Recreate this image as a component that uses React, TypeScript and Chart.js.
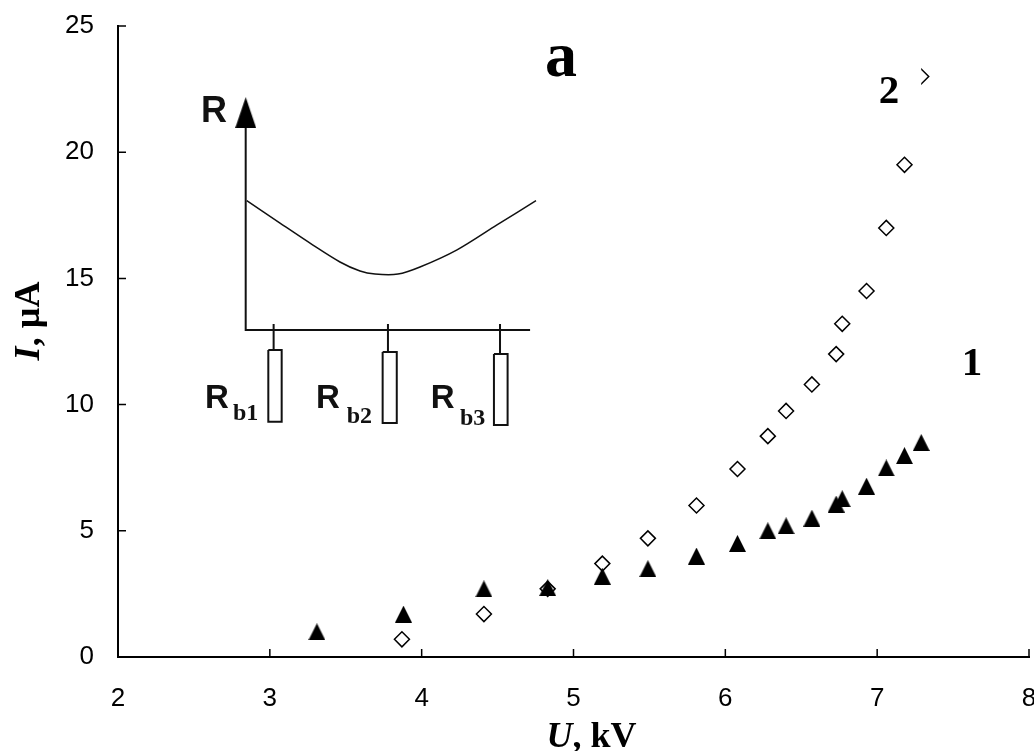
import React, { useEffect, useRef } from "react";
import { Chart, registerables } from "chart.js";

Chart.register(...registerables);

const voltage1 = [3.31, 3.88, 4.41, 4.83, 5.19, 5.49, 5.81, 6.08, 6.28, 6.4, 6.57, 6.73, 6.77, 6.93, 7.06, 7.18, 7.29];
const current1 = [1.0, 1.7, 2.7, 2.75, 3.2, 3.5, 4.0, 4.5, 5.0, 5.2, 5.5, 6.06, 6.27, 6.77, 7.49, 7.98, 8.5];
const voltage2 = [3.87, 4.41, 4.83, 5.19, 5.49, 5.81, 6.08, 6.28, 6.4, 6.57, 6.73, 6.77, 6.93, 7.06, 7.18, 7.29];
const current2 = [0.7, 1.7, 2.7, 3.7, 4.7, 6.0, 7.45, 8.75, 9.75, 10.8, 12.0, 13.2, 14.5, 17.0, 19.5, 23.0];

const insetCurveX = [2.848, 3.067, 3.284, 3.462, 3.594, 3.693, 3.844, 3.989, 4.233, 4.496, 4.753];
const insetCurveY = [18.08, 17.19, 16.32, 15.65, 15.29, 15.17, 15.17, 15.45, 16.13, 17.12, 18.08];
const insetAxisX = [2.841, 2.841, 4.714];
const insetAxisY = [20.96, 12.96, 12.96];
const insetArrowX = [2.841];
const insetArrowY = [21.57];
const insetStemX = [3.025, 3.778, 4.516];
const insetStemTop = [13.19, 13.19, 13.19];
const insetBoxTop = [12.16, 12.08, 12.0];
const insetBoxBottom = [9.32, 9.27, 9.19];
const insetBoxLeft = [2.99, 3.743, 4.476];
const insetBoxRight = [3.078, 3.836, 4.566];

const xTicks = [2, 3, 4, 5, 6, 7, 8];
const yTicks = [0, 5, 10, 15, 20, 25];

const SERIF = '"Liberation Serif"';
const SANS = '"Liberation Sans"';
const PLOT_RIGHT = 1029;

function triangleImage(w: number, h: number) {
  const c = document.createElement("canvas");
  c.width = w;
  c.height = h;
  const g = c.getContext("2d")!;
  g.fillStyle = "#000";
  g.beginPath();
  g.moveTo(w / 2, 0);
  g.lineTo(w, h);
  g.lineTo(0, h);
  g.closePath();
  g.fill();
  return c;
}

function zip(xs: number[], ys: number[]) {
  return xs.map((x, i) => ({ x, y: ys[i] }));
}

const line = (data: { x: number; y: number }[], borderWidth = 2, tension = 0) => ({
  data,
  showLine: true,
  borderColor: "#111",
  borderWidth,
  pointRadius: 0,
  fill: false,
  tension,
});

const decorations = {
  id: "decorations",
  afterLayout(chart: any) {
    const x = chart.scales.x;
    x.right = PLOT_RIGHT;
    x.width = PLOT_RIGHT - x.left;
    x.configure();
    chart.chartArea.right = PLOT_RIGHT;
    chart.chartArea.width = PLOT_RIGHT - chart.chartArea.left;
  },
  afterDatasetsDraw(chart: any) {
    const { ctx, scales, chartArea } = chart;
    const X = scales.x;
    const Y = scales.y;
    const px = (v: number) => X.getPixelForValue(v);
    const py = (v: number) => Y.getPixelForValue(v);

    ctx.save();
    // inward tick marks
    ctx.strokeStyle = "#000";
    ctx.lineWidth = 1.5;
    ctx.beginPath();
    xTicks.forEach((t) => {
      ctx.moveTo(px(t), chartArea.bottom);
      ctx.lineTo(px(t), chartArea.bottom - 8);
    });
    yTicks.forEach((t) => {
      ctx.moveTo(chartArea.left, py(t));
      ctx.lineTo(chartArea.left + 8, py(t));
    });
    ctx.stroke();

    // white box of label "2" hides the left half of the last marker
    ctx.fillStyle = "#fff";
    ctx.fillRect(px(7.29) - 52, py(23.0) - 12, 52, 44);

    ctx.fillStyle = "#000";
    ctx.textBaseline = "alphabetic";
    ctx.textAlign = "center";
    ctx.font = `bold 64px ${SERIF}`;
    ctx.fillText("a", px(4.918), py(23.02));
    ctx.font = `bold 41px ${SERIF}`;
    ctx.fillText("2", px(7.078), py(21.95));
    ctx.fillText("1", px(7.625), py(11.18));

    // inset labels
    ctx.textAlign = "left";
    ctx.fillStyle = "#111";
    ctx.font = `bold 36px ${SANS}`;
    ctx.fillText("R", px(2.547), py(21.2));
    const rb = ["b1", "b2", "b3"];
    const rbX = [2.573, 3.304, 4.06];
    const rbSubX = [2.757, 3.506, 4.252];
    const rbY = [9.865, 9.865, 9.865];
    const rbSubY = [9.39, 9.27, 9.19];
    rb.forEach((s, i) => {
      ctx.font = `bold 33px ${SANS}`;
      ctx.fillText("R", px(rbX[i]), py(rbY[i]));
      ctx.font = `bold 24px ${SERIF}`;
      ctx.fillText(s, px(rbSubX[i]), py(rbSubY[i]));
    });

    // axis titles with mixed italic and bold parts
    ctx.fillStyle = "#000";
    const drawMixed = (x: number, y: number, rotate: boolean, italic: string, rest: string) => {
      ctx.save();
      ctx.translate(x, y);
      if (rotate) ctx.rotate(-Math.PI / 2);
      const fi = `italic bold 36px ${SERIF}`;
      const fb = `bold 36px ${SERIF}`;
      ctx.font = fi;
      const wi = ctx.measureText(italic).width;
      ctx.font = fb;
      const wr = ctx.measureText(rest).width;
      const start = -(wi + wr) / 2;
      ctx.font = fi;
      ctx.fillText(italic, start, 0);
      ctx.font = fb;
      ctx.fillText(rest, start + wi, 0);
      ctx.restore();
    };
    drawMixed(591.5, 747, false, "U", ", kV");
    drawMixed(39, 321, true, "I", ", \u00b5A");
    ctx.restore();
  },
};

export default function App() {
  const ref = useRef<HTMLCanvasElement>(null);
  useEffect(() => {
    const triangle = triangleImage(17, 17);
    const arrow = triangleImage(21, 31);
    const boxes = insetStemX.map((_, i) =>
      line([
        { x: insetBoxLeft[i], y: insetBoxTop[i] },
        { x: insetBoxRight[i], y: insetBoxTop[i] },
        { x: insetBoxRight[i], y: insetBoxBottom[i] },
        { x: insetBoxLeft[i], y: insetBoxBottom[i] },
        { x: insetBoxLeft[i], y: insetBoxTop[i] },
      ]),
    );
    const stems = insetStemX.map((x, i) =>
      line([
        { x, y: insetStemTop[i] },
        { x, y: insetBoxTop[i] },
      ]),
    );
    const chart = new Chart(ref.current!, {
      type: "scatter",
      data: {
        datasets: [
          {
            label: "1",
            data: zip(voltage1, current1),
            pointStyle: triangle,
            pointRadius: 8,
          },
          {
            label: "2",
            data: zip(voltage2, current2),
            pointStyle: "rectRot",
            pointRadius: 7.5,
            backgroundColor: "#fff",
            borderColor: "#000",
            borderWidth: 1.5,
          },
          line(zip(insetCurveX, insetCurveY), 1.5, 0.3),
          line(zip(insetAxisX, insetAxisY)),
          ...stems,
          ...boxes,
          {
            data: zip(insetArrowX, insetArrowY),
            pointStyle: arrow,
            pointRadius: 10,
          },
        ] as any,
      },
      options: {
        animation: false,
        responsive: false,
        layout: { padding: { top: 26, right: 5, left: 0, bottom: 0 } },
        plugins: { legend: { display: false }, title: { display: false }, tooltip: { enabled: false } },
        scales: {
          x: {
            type: "linear",
            min: 2,
            max: 8,
            afterFit: (s: any) => {
              s.height = 94;
              s.paddingLeft = 0;
              s.paddingRight = 0;
            },
            afterBuildTicks: (s: any) => {
              s.ticks = xTicks.map((value) => ({ value }));
            },
            border: { color: "#000", width: 2 },
            grid: { drawOnChartArea: false, drawTicks: false },
            ticks: { color: "#000", padding: 26, maxRotation: 0, font: { family: "Liberation Sans", size: 26 } },
          },
          y: {
            type: "linear",
            min: 0,
            max: 25,
            afterFit: (s: any) => {
              s.width = 118;
              s.paddingTop = 0;
              s.paddingBottom = 0;
            },
            afterBuildTicks: (s: any) => {
              s.ticks = yTicks.map((value) => ({ value }));
            },
            border: { color: "#000", width: 2 },
            grid: { drawOnChartArea: false, drawTicks: false },
            ticks: { color: "#000", padding: 24, font: { family: "Liberation Sans", size: 26 } },
          },
        },
      } as any,
      plugins: [decorations],
    });
    return () => chart.destroy();
  }, []);
  return (
    <canvas
      ref={ref}
      width={1034}
      height={751}
      style={{ position: "absolute", left: 0, top: 0, display: "block", background: "#fff" }}
    />
  );
}
